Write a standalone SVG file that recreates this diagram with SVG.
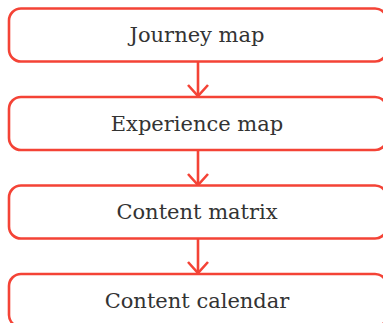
<svg xmlns="http://www.w3.org/2000/svg" width="383" height="323" viewBox="0 0 383 323">
<style>
.box{fill:#fff;stroke:#f44336;stroke-width:2.6}
.lbl{font-family:"DejaVu Serif",serif;font-size:21px;fill:#333;text-anchor:middle;dominant-baseline:central}
.edge{stroke:#f44336;stroke-width:2.6;fill:none}
</style>
<rect width="383" height="323" fill="#fff"/>
<g id="connectors">
<line class="edge" x1="198" y1="61.5" x2="198" y2="96" />
<path d="M188,85 L198,96 L208,85" class="edge"/>
<line class="edge" x1="198" y1="150" x2="198" y2="185" />
<path d="M188,174 L198,185 L208,174" class="edge"/>
<line class="edge" x1="198" y1="238.5" x2="198" y2="273" />
<path d="M188,262 L198,273 L208,262" class="edge"/>
</g>
<g id="n1"><rect class="box" x="9" y="8.5" width="378" height="53" rx="12"/><text class="lbl" x="197" y="35">Journey map</text></g>
<g id="n2"><rect class="box" x="9" y="97" width="378" height="53" rx="12"/><text class="lbl" x="197" y="123.5">Experience map</text></g>
<g id="n3"><rect class="box" x="9" y="185.5" width="378" height="53" rx="12"/><text class="lbl" x="197" y="212">Content matrix</text></g>
<g id="n4"><rect class="box" x="9" y="274" width="378" height="53" rx="12"/><text class="lbl" x="197" y="300.5">Content calendar</text></g>
</svg>
